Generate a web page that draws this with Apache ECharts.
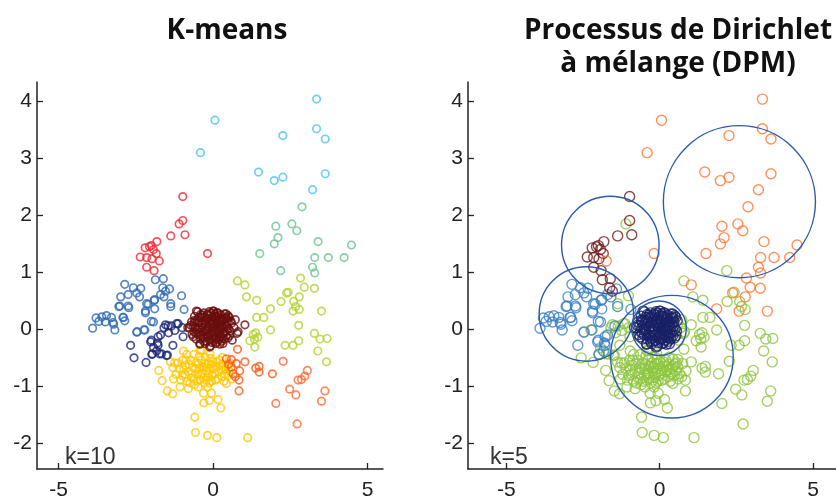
<!DOCTYPE html>
<html>
<head>
<meta charset="utf-8">
<script src="https://cdn.jsdelivr.net/npm/echarts@6/dist/echarts.min.js"></script>
<style>
  html, body { margin: 0; padding: 0; background: #fff; }
  #main { width: 836px; height: 501px; }
</style>
</head>
<body>
<div id="main"></div>
<script>
// tick labels
const xTicks = [-5, 0, 5];
const yTicks = [-2, -1, 0, 1, 2, 3, 4];

// points of each k-means cluster: [x, y, dpm cluster]
// dpm cluster: 0 orange, 1 maroon, 2 blue, 3 navy, 4 green
const kmCyan = [[0.06,3.66,0],[-0.41,3.09,0],[3.35,4.03,0],[3.35,3.51,0],[3.63,3.33,0],[2.26,3.39,0],
  [1.47,2.75,0],[1.98,2.60,0],[2.26,2.66,0],[3.63,2.72,0],[3.22,2.44,0]];
const kmTeal = [[2.88,2.14,0],[2.03,1.80,0],[2.55,1.84,0],[2.71,1.72,0],[2.10,1.60,0],[1.98,1.49,0],
  [3.40,1.53,0],[4.48,1.47,0],[1.51,1.32,0],[3.29,1.25,0],[3.73,1.25,0],[4.24,1.25,0],[3.22,1.08,0],
  [3.29,0.98,0],[2.19,1.02,4]];
const kmRed = [[-0.98,2.32,1],[-0.98,1.90,1],[-1.10,1.84,4],[-0.91,1.65,1],[-1.37,1.63,1],[-1.82,1.53,1],
  [-2.20,1.42,1],[-2.00,1.46,1],[-2.06,1.44,1],[-1.93,1.39,1],[-1.84,1.32,1],[-2.36,1.26,1],[-2.15,1.25,1],
  [-1.98,1.23,1],[-1.74,1.19,0],[-2.15,1.08,1],[-1.91,1.02,1],[-0.18,1.32,0]];
const kmBlue = [[-2.86,0.78,2],[-2.58,0.72,2],[-2.34,0.71,2],[-2.99,0.56,2],[-2.75,0.60,2],[-2.47,0.63,2],
  [-2.38,0.56,2],[-3.05,0.39,2],[-2.73,0.37,2],[-2.15,0.44,2],[-1.89,0.51,2],[-2.19,0.28,2],[-1.89,0.35,2],
  [-3.79,0.19,2],[-3.60,0.21,2],[-3.45,0.23,2],[-3.29,0.20,2],[-3.70,0.13,2],[-3.49,0.12,2],[-3.90,0.01,2],
  [-3.18,-0.02,2],[-2.86,0.14,2],[-2.92,0.20,2],[-3.22,0.08,2],[-2.47,-0.06,2],[-2.24,-0.02,4],[-1.93,0.12,2],
  [-1.87,0.86,1],[-1.61,0.88,1],[-1.63,0.72,1],[-1.41,0.70,2],[-1.59,0.56,2],[-1.37,0.39,2],[-1.02,0.58,4],
  [-0.94,0.34,2],[-1.70,0.60,2],[-1.54,0.66,1],[-1.37,0.44,4],[-1.91,0.50,2],[-2.10,0.43,2],[-2.19,0.31,2],
  [-2.00,0.13,2],[-2.21,-0.02,2],[-2.46,-0.05,4],[-2.75,0.40,2],[-3.02,0.40,2],[-2.90,0.20,2],[-3.24,0.11,2]];
const kmNavy = [[-1.54,0.07,4],[-1.35,0.05,4],[-1.18,0.09,4],[-1.00,0.02,4],[-1.44,-0.07,4],[-1.24,-0.03,4],
  [-1.70,-0.11,2],[-2.02,-0.23,2],[-1.80,-0.25,2],[-1.93,-0.33,4],[-2.67,-0.29,2],[-2.56,-0.51,4],
  [-2.17,-0.59,4],[-1.98,-0.45,2],[-1.67,-0.44,4],[-1.48,-0.46,4],[-1.83,-0.39,2],[-1.59,0.02,4],
  [-1.46,0.05,2],[-1.13,0.09,4],[-0.97,-0.14,4],[-1.30,-0.29,4],[-1.78,-0.29,2],[-1.97,-0.44,4],
  [-1.78,-0.14,2],[-2.00,-0.20,2],[-1.73,-0.44,4],[-1.51,-0.47,4]];
const kmMaroon = [[-0.82,0.02,3],[-0.70,0.12,3],[-0.68,-0.10,3],[-0.60,0.22,3],[-0.58,0.02,3],[-0.55,-0.18,3],
  [-0.50,0.30,3],[-0.47,0.10,3],[-0.45,-0.06,3],[-0.42,-0.26,3],[-0.38,0.20,3],[-0.35,0.02,3],[-0.33,-0.14,3],
  [-0.30,0.28,3],[-0.27,0.10,3],[-0.25,-0.04,3],[-0.22,-0.22,3],[-0.20,0.18,3],[-0.18,0.00,3],[-0.15,-0.12,3],
  [-0.12,0.30,3],[-0.10,0.08,3],[-0.08,-0.30,3],[-0.06,-0.05,3],[-0.04,0.20,3],[-0.02,0.02,3],[0.00,-0.16,3],
  [0.02,0.31,3],[0.04,0.12,3],[0.06,-0.03,3],[0.08,-0.26,3],[0.10,0.22,3],[0.12,0.05,3],[0.14,-0.10,3],
  [0.16,0.28,3],[0.18,-0.20,3],[0.20,0.14,3],[0.22,-0.02,3],[0.25,0.24,3],[0.27,-0.14,3],[0.30,0.06,3],
  [0.32,-0.26,3],[0.35,0.18,3],[0.38,-0.06,3],[0.42,0.26,3],[0.45,0.04,3],[0.48,-0.16,3],[0.52,0.20,3],
  [0.55,-0.04,3],[0.60,0.10,4],[0.62,-0.20,4],[0.68,0.02,4],[0.72,0.16,4],[0.78,-0.08,4],[0.81,-0.05,4],
  [1.03,0.07,4],[-0.54,0.31,3],[0.00,0.31,3],[0.49,0.23,3],[-0.11,-0.32,3],[-0.43,-0.27,3],[0.22,-0.27,3],
  [-0.76,0.02,3],
  [-0.65,0.05,3],[-0.62,-0.05,3],[-0.52,0.15,3],[-0.50,-0.10,3],[-0.40,0.25,3],[-0.40,-0.18,3],[-0.36,0.10,3],
  [-0.32,-0.06,3],[-0.28,0.20,3],[-0.26,-0.26,3],[-0.22,0.05,3],[-0.20,-0.12,3],[-0.16,0.24,3],[-0.14,0.12,3],
  [-0.12,-0.20,3],[-0.08,0.16,3],[-0.06,0.27,3],[-0.04,-0.24,3],[0.00,0.08,3],[0.02,-0.08,3],[0.05,0.22,3],
  [0.07,-0.18,3],[0.10,0.00,3],[0.12,0.28,3],[0.15,0.10,3],[0.17,-0.04,3],[0.20,-0.14,3],[0.24,0.18,3],
  [0.26,0.02,3],[0.28,-0.22,3],[0.31,0.14,3],[0.33,-0.08,3],[0.37,0.26,3],[0.40,0.08,3],[0.42,-0.12,3],
  [0.44,0.18,3],[0.50,0.00,3],[0.53,-0.12,3],[0.57,0.14,3],[-0.58,0.12,3],[-0.46,0.20,3],[-0.30,-0.22,3],
  [-0.10,-0.10,3],[0.08,0.16,3],[0.22,0.08,3],[-0.72,0.06,3],[-0.56,-0.08,3],[-0.18,0.26,3],[0.36,-0.18,3],
  [0.46,0.12,3],
  [-0.60,0.15,3],[-0.48,0.00,3],[-0.44,0.14,3],[-0.38,-0.10,3],[-0.34,0.24,3],[-0.24,0.14,3],[-0.20,-0.04,3],
  [-0.16,0.04,3],[-0.06,0.10,3],[-0.02,-0.12,3],[0.04,0.04,3],[0.06,0.26,3],[0.10,-0.16,3],[0.14,0.20,3],
  [0.18,0.02,3],[0.26,0.12,3],[0.30,-0.16,3],[0.34,0.02,3],[0.40,0.20,3],[0.44,-0.04,3],[-0.52,-0.02,3],
  [-0.64,-0.14,3],[-0.28,-0.16,3],[0.12,-0.24,3]];
const kmYellow = [[-1.76,-0.73,4],[-1.65,-0.91,4],[-1.48,-1.09,4],[-1.31,-1.14,4],[-1.28,-0.88,4],[-1.07,-1.02,4],
  [-0.96,-0.39,4],[-0.98,-0.55,4],[-1.24,-0.60,4],[-0.42,-0.38,4],[-0.10,-0.44,4],[-0.59,-1.55,4],[-0.57,-1.82,4],
  [-0.18,-1.87,4],[0.12,-1.91,4],[1.12,-1.91,4],[-0.12,-1.26,4],[0.16,-1.24,4],[0.25,-1.39,4],[-0.31,-1.13,4],
  [-0.18,-1.02,4],[-0.05,-1.13,4],[0.43,-0.96,4],[0.38,-0.79,4],[-0.38,-0.38,4],[-0.30,-1.30,4],
  [-1.10,-0.70,4],[-1.00,-0.82,4],[-0.90,-0.64,4],[-0.85,-0.92,4],[-0.80,-0.75,4],[-0.72,-0.55,4],
  [-0.70,-0.86,4],[-0.65,-0.68,4],[-0.60,-0.98,4],[-0.55,-0.60,4],[-0.50,-0.80,4],[-0.45,-0.70,4],
  [-0.42,-0.90,4],[-0.38,-0.55,4],[-0.35,-0.78,4],[-0.30,-0.66,4],[-0.28,-0.95,4],[-0.25,-0.50,4],
  [-0.22,-0.74,4],[-0.18,-0.85,4],[-0.15,-0.62,4],[-0.10,-0.70,4],[-0.05,-0.92,4],[0.00,-0.58,4],
  [0.05,-0.78,4],[0.10,-0.66,4],[0.15,-0.88,4],[0.20,-0.55,4],[0.25,-0.72,4],[0.30,-0.62,4],[0.35,-0.92,4],
  [0.40,-0.70,4],[0.48,-0.82,4],[0.55,-0.60,4],[0.60,-0.88,4],[-0.62,-0.45,4],[-0.80,-1.05,4],
  [-0.48,-1.02,4],[-1.30,-0.68,4],[-1.20,-0.80,4],[-1.38,-0.58,4],
  [-1.15,-0.60,4],[-1.05,-0.90,4],[-0.95,-0.72,4],[-0.92,-0.80,4],[-0.88,-0.55,4],[-0.78,-0.62,4],
  [-0.75,-0.95,4],[-0.68,-0.78,4],[-0.62,-0.88,4],[-0.58,-0.70,4],[-0.52,-0.92,4],[-0.48,-0.62,4],
  [-0.40,-0.80,4],[-0.36,-0.66,4],[-0.32,-0.86,4],[-0.26,-0.60,4],[-0.22,-0.90,4],[-0.20,-0.68,4],
  [-0.14,-0.78,4],[-0.12,-0.95,4],[-0.06,-0.62,4],[-0.02,-0.82,4],[0.02,-0.70,4],[0.08,-0.90,4],
  [0.12,-0.58,4],[0.18,-0.75,4],[0.22,-0.65,4],[0.28,-0.84,4],[0.32,-0.72,4],[0.45,-0.65,4],[0.52,-0.74,4],
  [-0.85,-0.45,4],[-0.45,-0.48,4],[-0.08,-0.52,4],[0.30,-0.50,4]];
const kmOrangeA = [[0.79,-0.36,4],[0.43,-0.53,4],[0.59,-0.54,4],[0.75,-0.61,4],[1.03,-0.58,4],[0.59,-0.67,4],
  [0.86,-0.74,4],[0.84,-0.90,4],[0.84,-1.09,4],[1.38,-0.69,4],[1.49,-0.66,4],[1.49,-0.76,4],[1.92,-0.79,4],
  [0.65,-0.79,4],[0.50,-0.62,4],[0.72,-0.84,4]];
const kmOrangeB = [[2.27,-0.57,4],[3.05,-0.73,4],[2.97,-0.83,4],[2.86,-0.89,4],[2.75,-0.90,4],[2.48,-1.06,4],
  [2.68,-1.16,4],[2.03,-1.31,4],[3.62,-1.09,4],[3.51,-1.27,4],[2.72,-1.67,4]];
const kmYGreen = [[0.79,0.84,4],[1.03,0.77,0],[1.08,0.56,4],[1.41,0.50,4],[1.86,0.35,0],[1.41,0.20,4],
  [1.64,0.20,4],[1.86,-0.02,4],[1.30,-0.10,4],[1.38,-0.07,4],[1.45,-0.15,4],[1.34,-0.18,4],[1.19,-0.21,4],
  [1.35,-0.32,4],[2.20,0.48,4],[2.38,0.63,0],[2.43,0.64,4],[2.61,0.48,4],[2.79,0.56,0],[2.95,0.73,0],
  [2.83,0.89,0],[3.28,0.71,0],[2.59,0.31,0],[2.79,0.34,4],[3.51,0.31,0],[2.77,0.06,4],[3.28,-0.08,4],
  [3.46,-0.18,4],[3.69,-0.17,4],[2.77,-0.21,4],[2.33,-0.29,4],[2.59,-0.29,4],[3.39,-0.39,4],[3.67,-0.58,4],
  [2.67,0.39,4]];

// DPM fitted components: [cx, cy, radius in x units]
const dpmCircles = [[2.60,2.23,2.48],[-1.61,1.47,1.59],[-2.39,0.26,1.54],[0.40,-0.49,2.00],[-0.02,0.01,0.89]];

const kmClusters = [
  { pts: kmYellow, color: '#ffc80a' },
  { pts: kmOrangeA, color: '#ff5a14' },
  { pts: kmOrangeB, color: '#ff6a35' },
  { pts: kmNavy, color: '#1c2878' },
  { pts: kmBlue, color: '#2f69b3' },
  { pts: kmRed, color: '#ec2a33' },
  { pts: kmYGreen, color: '#b4d232' },
  { pts: kmTeal, color: '#6cc68e' },
  { pts: kmCyan, color: '#4cc4ea' },
  { pts: kmMaroon, color: '#6a0e0e' }
];
const dpmColors = ['#ff7632', '#6e1c1c', '#3a80c4', '#192166', '#8dc63f'];
const dpmOrder = [4, 2, 1, 0, 3];

const allPts = [].concat(kmCyan, kmTeal, kmRed, kmBlue, kmNavy, kmMaroon, kmYellow, kmOrangeA, kmOrangeB, kmYGreen);

const labelFont = { fontFamily: 'Liberation Sans', fontSize: 21, color: '#222' };
const titleFont = { fontFamily: 'Open Sans', fontWeight: 'bold', fontSize: 28, color: '#111', lineHeight: 33 };
const kFont = { fontFamily: 'Liberation Sans', fontWeight: 'normal', fontSize: 23, color: '#333' };

function makeX(idx, min, max) {
  return {
    gridIndex: idx, type: 'value', min: min, max: max,
    axisLine: { show: true, onZero: false, lineStyle: { color: '#222', width: 1.5 } },
    axisTick: { show: true, inside: true, length: 6, customValues: xTicks, lineStyle: { color: '#222', width: 1.3 } },
    axisLabel: Object.assign({ customValues: xTicks, margin: 11 }, labelFont),
    splitLine: { show: false }
  };
}
function makeY(idx) {
  return {
    gridIndex: idx, type: 'value', min: -2.46, max: 4.33,
    axisLine: { show: true, onZero: false, lineStyle: { color: '#222', width: 1.5 } },
    axisTick: { show: true, inside: true, length: 6, customValues: yTicks, lineStyle: { color: '#222', width: 1.3 } },
    axisLabel: Object.assign({ customValues: yTicks, margin: 5 }, labelFont),
    splitLine: { show: false }
  };
}

const series = [];
kmClusters.forEach(function (c) {
  series.push({
    type: 'scatter', xAxisIndex: 0, yAxisIndex: 0, symbol: 'circle', symbolSize: 7.5,
    data: c.pts.map(function (p) { return [p[0], p[1]]; }),
    itemStyle: { color: 'rgba(0,0,0,0)', borderColor: c.color, borderWidth: 1.7 },
    silent: true
  });
});
dpmOrder.forEach(function (d) {
  series.push({
    type: 'scatter', xAxisIndex: 1, yAxisIndex: 1, symbol: 'circle', symbolSize: 10,
    data: allPts.filter(function (p) { return p[2] === d; }).map(function (p) { return [p[0], p[1]]; }),
    itemStyle: { color: 'rgba(0,0,0,0)', borderColor: dpmColors[d], borderWidth: 1.4 },
    silent: true
  });
});
series.push({
  type: 'custom', xAxisIndex: 1, yAxisIndex: 1, z: 5, silent: true, clip: false,
  data: dpmCircles,
  renderItem: function (params, api) {
    const c = api.coord([api.value(0), api.value(1)]);
    const r = api.size([api.value(2), 0])[0];
    return { type: 'circle', shape: { cx: c[0], cy: c[1], r: r },
      style: { fill: 'none', stroke: '#2a5cab', lineWidth: 1.4 } };
  }
});

const chart = echarts.init(document.getElementById('main'));
chart.setOption({
  animation: false,
  backgroundColor: '#fff',
  title: [
    { text: 'K-means', left: 222, top: 10, textAlign: 'center', textStyle: titleFont },
    { text: 'Processus de Dirichlet\nà mélange (DPM)', left: 673, top: 10, textAlign: 'center', textStyle: titleFont },
    { text: 'k=10', left: 60, top: 441, textStyle: kFont },
    { text: 'k=5', left: 485, top: 441, textStyle: kFont }
  ],
  grid: [
    { left: 37, top: 82, width: 346, height: 391 },
    { left: 468, top: 82, width: 378, height: 391 }
  ],
  xAxis: [makeX(0, -5.7, 5.5), makeX(1, -6.25, 5.75)],
  yAxis: [makeY(0), makeY(1)],
  series: series
});
</script>
</body>
</html>
